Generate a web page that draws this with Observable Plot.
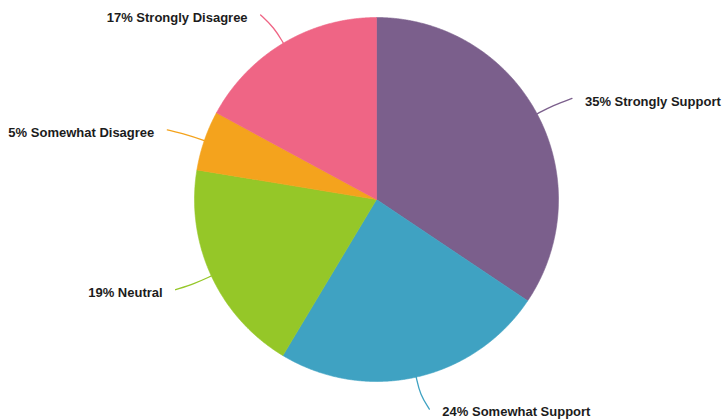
<!DOCTYPE html>
<html>
<head>
<meta charset="utf-8">
<script src="https://cdn.jsdelivr.net/npm/d3@7"></script>
<script src="https://cdn.jsdelivr.net/npm/@observablehq/plot@0.6"></script>
<style>
  html, body { margin: 0; padding: 0; background: #fff; }
  #chart svg { display: block; }
</style>
</head>
<body>
<div id="chart"></div>
<script>
const categories = ["Strongly Support", "Somewhat Support", "Neutral", "Somewhat Disagree", "Strongly Disagree"];
const values = [34.4, 24.2, 19.0, 5.3, 17.1];
// percentages as printed on the labels
const labelPercents = [35, 24, 19, 5, 17];
const colors = ["#7b5f8c", "#3fa2c2", "#95c728", "#f4a31d", "#ef6585"];

const W = 726, H = 419;
const cx = 376, cy = 199, R = 182;

const pie = d3.pie().sort(null).value(d => d.value)(
  categories.map((c, i) => ({category: c, value: values[i], pct: labelPercents[i], color: colors[i]}))
);

const marks = [];
const labels = [];
for (const s of pie) {
  const pts = [{x: 0, y: 0}];
  const n = Math.max(4, Math.ceil((s.endAngle - s.startAngle) / 0.005));
  for (let k = 0; k <= n; k++) {
    const a = s.startAngle + (s.endAngle - s.startAngle) * k / n;
    pts.push({x: Math.sin(a), y: Math.cos(a)});
  }
  pts.push({x: 0, y: 0});
  marks.push(Plot.line(pts, {x: "x", y: "y", fill: s.data.color, stroke: s.data.color, strokeWidth: 0.6, curve: "linear"}));

  const mid = (s.startAngle + s.endAngle) / 2;
  const side = Math.sin(mid) >= 0 ? 1 : -1;
  const p0 = {x: Math.sin(mid), y: Math.cos(mid)};
  const p1 = {x: 1.1 * Math.sin(mid), y: 1.1 * Math.cos(mid)};
  const p2 = {x: 1.18 * Math.sin(mid) + side * 6 / R, y: 1.18 * Math.cos(mid)};
  marks.push(Plot.line([p0, p1, p2], {x: "x", y: "y", stroke: s.data.color, strokeWidth: 1.3, curve: "basis"}));
  labels.push({
    x: p2.x + side * 13 / R,
    y: p2.y,
    text: `${s.data.pct}% ${s.data.category}`,
    anchor: side > 0 ? "start" : "end"
  });
}

for (const anchor of ["start", "end"]) {
  marks.push(Plot.text(labels.filter(d => d.anchor === anchor), {
    x: "x", y: "y", text: "text", textAnchor: anchor, dy: 3,
    fontSize: 13, fontWeight: "bold", fill: "#1c1c1c",
    fontFamily: "'Liberation Sans', Arial, Helvetica, sans-serif"
  }));
}

const chart = Plot.plot({
  width: W,
  height: H,
  margin: 0,
  x: {domain: [(0 - cx) / R, (W - cx) / R], range: [0, W], axis: null},
  y: {domain: [(cy - H) / R, cy / R], range: [H, 0], axis: null},
  style: {background: "#fff", fontFamily: "'Liberation Sans', Arial, sans-serif"},
  marks
});
document.getElementById("chart").appendChild(chart);
</script>
</body>
</html>
